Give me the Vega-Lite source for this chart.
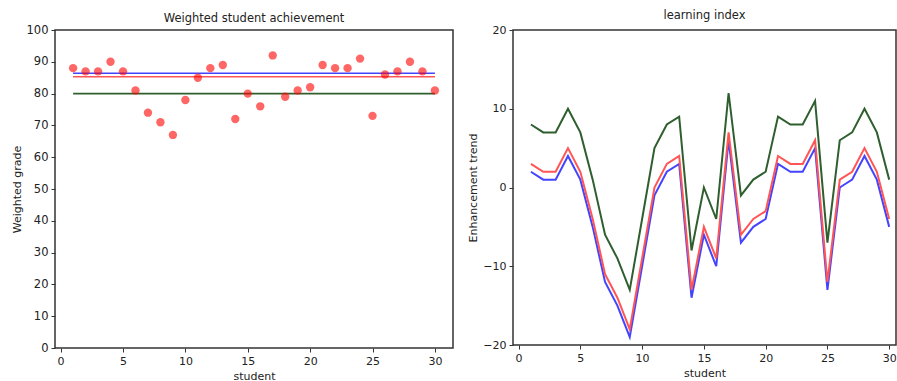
{
  "$schema": "https://vega.github.io/schema/vega-lite/v6.json",
  "padding": {"left": 10, "top": 8, "right": 0, "bottom": 0},
  "spacing": 13,
  "config": {
    "view": {"stroke": "#333333", "strokeWidth": 1.5},
    "axis": {
      "grid": false,
      "domain": false,
      "labelFont": "DejaVu Sans",
      "titleFont": "DejaVu Sans",
      "labelFontSize": 11,
      "titleFontSize": 11,
      "titleFontWeight": "normal",
      "tickColor": "#333333",
      "tickSize": 4,
      "labelPadding": 3,
      "labelOverlap": false,
      "labelColor": "#222222",
      "titleColor": "#222222"
    },
    "title": {"font": "DejaVu Sans", "fontSize": 11.5, "fontWeight": "normal", "color": "#222222"}
  },
  "hconcat": [
    {
      "width": 398,
      "height": 318,
      "title": {"text": "Weighted student achievement", "offset": 0},
      "layer": [
        {
          "data": {"values": [
            {"series": "upper", "start": 1, "end": 30, "level": 86.4},
            {"series": "middle", "start": 1, "end": 30, "level": 85.3},
            {"series": "lower", "start": 1, "end": 30, "level": 80.0}
          ]},
          "mark": {"type": "rule", "strokeWidth": 1.6},
          "encoding": {
            "x": {"field": "start", "type": "quantitative", "scale": {"domain": [-0.45, 31.45], "nice": false, "zero": false}, "axis": {"values": [0, 5, 10, 15, 20, 25, 30], "title": "student"}},
            "x2": {"field": "end"},
            "y": {"field": "level", "type": "quantitative", "scale": {"domain": [0, 100], "nice": false}, "axis": {"values": [0, 10, 20, 30, 40, 50, 60, 70, 80, 90, 100], "title": "Weighted grade", "labelFontSize": 11.5}},
            "color": {"field": "series", "type": "nominal", "scale": {"domain": ["upper", "middle", "lower"], "range": ["#4444ff", "#ff5555", "#2f5f2f"]}, "legend": null}
          }
        },
        {
          "data": {"values": [
            {"student": 1, "grade": 88}, {"student": 2, "grade": 87}, {"student": 3, "grade": 87},
            {"student": 4, "grade": 90}, {"student": 5, "grade": 87}, {"student": 6, "grade": 81},
            {"student": 7, "grade": 74}, {"student": 8, "grade": 71}, {"student": 9, "grade": 67},
            {"student": 10, "grade": 78}, {"student": 11, "grade": 85}, {"student": 12, "grade": 88},
            {"student": 13, "grade": 89}, {"student": 14, "grade": 72}, {"student": 15, "grade": 80},
            {"student": 16, "grade": 76}, {"student": 17, "grade": 92}, {"student": 18, "grade": 79},
            {"student": 19, "grade": 81}, {"student": 20, "grade": 82}, {"student": 21, "grade": 89},
            {"student": 22, "grade": 88}, {"student": 23, "grade": 88}, {"student": 24, "grade": 91},
            {"student": 25, "grade": 73}, {"student": 26, "grade": 86}, {"student": 27, "grade": 87},
            {"student": 28, "grade": 90}, {"student": 29, "grade": 87}, {"student": 30, "grade": 81}
          ]},
          "mark": {"type": "circle", "size": 70, "color": "#ff0000", "opacity": 0.6},
          "encoding": {
            "x": {"field": "student", "type": "quantitative", "scale": {"domain": [-0.45, 31.45], "nice": false, "zero": false}, "axis": {"values": [0, 5, 10, 15, 20, 25, 30], "title": "student"}},
            "y": {"field": "grade", "type": "quantitative", "scale": {"domain": [0, 100], "nice": false}, "axis": {"values": [0, 10, 20, 30, 40, 50, 60, 70, 80, 90, 100], "title": "Weighted grade", "labelFontSize": 11.5}}
          }
        }
      ]
    },
    {
      "width": 383,
      "height": 315,
      "title": {"text": "learning index", "offset": 3},
      "data": {"values": [
        {"student": 1, "series": "blue", "value": 2}, {"student": 2, "series": "blue", "value": 1}, {"student": 3, "series": "blue", "value": 1},
        {"student": 4, "series": "blue", "value": 4}, {"student": 5, "series": "blue", "value": 1}, {"student": 6, "series": "blue", "value": -5},
        {"student": 7, "series": "blue", "value": -12}, {"student": 8, "series": "blue", "value": -15}, {"student": 9, "series": "blue", "value": -19},
        {"student": 10, "series": "blue", "value": -10}, {"student": 11, "series": "blue", "value": -1}, {"student": 12, "series": "blue", "value": 2},
        {"student": 13, "series": "blue", "value": 3}, {"student": 14, "series": "blue", "value": -14}, {"student": 15, "series": "blue", "value": -6},
        {"student": 16, "series": "blue", "value": -10}, {"student": 17, "series": "blue", "value": 6}, {"student": 18, "series": "blue", "value": -7},
        {"student": 19, "series": "blue", "value": -5}, {"student": 20, "series": "blue", "value": -4}, {"student": 21, "series": "blue", "value": 3},
        {"student": 22, "series": "blue", "value": 2}, {"student": 23, "series": "blue", "value": 2}, {"student": 24, "series": "blue", "value": 5},
        {"student": 25, "series": "blue", "value": -13}, {"student": 26, "series": "blue", "value": 0}, {"student": 27, "series": "blue", "value": 1},
        {"student": 28, "series": "blue", "value": 4}, {"student": 29, "series": "blue", "value": 1}, {"student": 30, "series": "blue", "value": -5},
        {"student": 1, "series": "red", "value": 3}, {"student": 2, "series": "red", "value": 2}, {"student": 3, "series": "red", "value": 2},
        {"student": 4, "series": "red", "value": 5}, {"student": 5, "series": "red", "value": 2}, {"student": 6, "series": "red", "value": -4},
        {"student": 7, "series": "red", "value": -11}, {"student": 8, "series": "red", "value": -14}, {"student": 9, "series": "red", "value": -18},
        {"student": 10, "series": "red", "value": -9}, {"student": 11, "series": "red", "value": 0}, {"student": 12, "series": "red", "value": 3},
        {"student": 13, "series": "red", "value": 4}, {"student": 14, "series": "red", "value": -13}, {"student": 15, "series": "red", "value": -5},
        {"student": 16, "series": "red", "value": -9}, {"student": 17, "series": "red", "value": 7}, {"student": 18, "series": "red", "value": -6},
        {"student": 19, "series": "red", "value": -4}, {"student": 20, "series": "red", "value": -3}, {"student": 21, "series": "red", "value": 4},
        {"student": 22, "series": "red", "value": 3}, {"student": 23, "series": "red", "value": 3}, {"student": 24, "series": "red", "value": 6},
        {"student": 25, "series": "red", "value": -12}, {"student": 26, "series": "red", "value": 1}, {"student": 27, "series": "red", "value": 2},
        {"student": 28, "series": "red", "value": 5}, {"student": 29, "series": "red", "value": 2}, {"student": 30, "series": "red", "value": -4},
        {"student": 1, "series": "green", "value": 8}, {"student": 2, "series": "green", "value": 7}, {"student": 3, "series": "green", "value": 7},
        {"student": 4, "series": "green", "value": 10}, {"student": 5, "series": "green", "value": 7}, {"student": 6, "series": "green", "value": 1},
        {"student": 7, "series": "green", "value": -6}, {"student": 8, "series": "green", "value": -9}, {"student": 9, "series": "green", "value": -13},
        {"student": 10, "series": "green", "value": -4}, {"student": 11, "series": "green", "value": 5}, {"student": 12, "series": "green", "value": 8},
        {"student": 13, "series": "green", "value": 9}, {"student": 14, "series": "green", "value": -8}, {"student": 15, "series": "green", "value": 0},
        {"student": 16, "series": "green", "value": -4}, {"student": 17, "series": "green", "value": 12}, {"student": 18, "series": "green", "value": -1},
        {"student": 19, "series": "green", "value": 1}, {"student": 20, "series": "green", "value": 2}, {"student": 21, "series": "green", "value": 9},
        {"student": 22, "series": "green", "value": 8}, {"student": 23, "series": "green", "value": 8}, {"student": 24, "series": "green", "value": 11},
        {"student": 25, "series": "green", "value": -7}, {"student": 26, "series": "green", "value": 6}, {"student": 27, "series": "green", "value": 7},
        {"student": 28, "series": "green", "value": 10}, {"student": 29, "series": "green", "value": 7}, {"student": 30, "series": "green", "value": 1}
      ]},
      "mark": {"type": "line", "strokeWidth": 2},
      "encoding": {
        "x": {"field": "student", "type": "quantitative", "scale": {"domain": [-0.45, 30.55], "nice": false, "zero": false}, "axis": {"values": [0, 5, 10, 15, 20, 25, 30], "title": "student"}},
        "y": {"field": "value", "type": "quantitative", "scale": {"domain": [-20, 20], "nice": false}, "axis": {"values": [-20, -10, 0, 10, 20], "title": "Enhancement trend"}},
        "color": {"field": "series", "type": "nominal", "scale": {"domain": ["blue", "red", "green"], "range": ["#7373ff", "#ff7373", "#2e5a2e"]}, "legend": null}
      }
    }
  ]
}
